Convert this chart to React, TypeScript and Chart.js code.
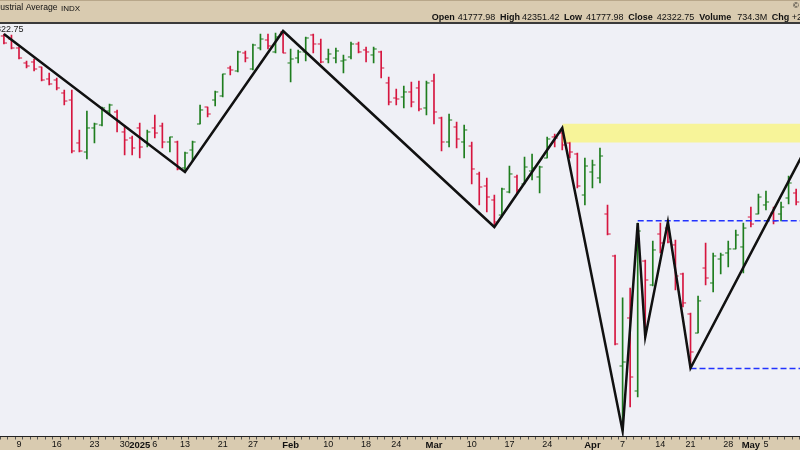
import React, { useEffect, useRef } from 'react';
import { Chart, registerables } from 'chart.js';

Chart.register(...registerables);

// ---- Data (Dow Jones Industrial Average, daily OHLC) ----
const days = [
  '2024-12-05', '2024-12-06', '2024-12-09', '2024-12-10', '2024-12-11', '2024-12-12', '2024-12-13',
  '2024-12-16', '2024-12-17', '2024-12-18', '2024-12-19', '2024-12-20', '2024-12-23', '2024-12-24',
  '2024-12-26', '2024-12-27', '2024-12-30', '2024-12-31', '2025-01-02', '2025-01-03', '2025-01-06',
  '2025-01-07', '2025-01-08', '2025-01-10', '2025-01-13', '2025-01-14', '2025-01-15', '2025-01-16',
  '2025-01-17', '2025-01-21', '2025-01-22', '2025-01-23', '2025-01-24', '2025-01-27', '2025-01-28',
  '2025-01-29', '2025-01-30', '2025-01-31', '2025-02-03', '2025-02-04', '2025-02-05', '2025-02-06',
  '2025-02-07', '2025-02-10', '2025-02-11', '2025-02-12', '2025-02-13', '2025-02-14', '2025-02-18',
  '2025-02-19', '2025-02-20', '2025-02-21', '2025-02-24', '2025-02-25', '2025-02-26', '2025-02-27',
  '2025-02-28', '2025-03-03', '2025-03-04', '2025-03-05', '2025-03-06', '2025-03-07', '2025-03-10',
  '2025-03-11', '2025-03-12', '2025-03-13', '2025-03-14', '2025-03-17', '2025-03-18', '2025-03-19',
  '2025-03-20', '2025-03-21', '2025-03-24', '2025-03-25', '2025-03-26', '2025-03-27', '2025-03-28',
  '2025-03-31', '2025-04-01', '2025-04-02', '2025-04-03', '2025-04-04', '2025-04-07', '2025-04-08',
  '2025-04-09', '2025-04-10', '2025-04-11', '2025-04-14', '2025-04-15', '2025-04-16', '2025-04-17',
  '2025-04-21', '2025-04-22', '2025-04-23', '2025-04-24', '2025-04-25', '2025-04-28', '2025-04-29',
  '2025-04-30', '2025-05-01', '2025-05-02', '2025-05-05', '2025-05-06', '2025-05-07', '2025-05-08',
  '2025-05-09',
];

const opens = [
  44937, 44866, 44657, 44310, 44333, 44218, 43943, 43920, 43624, 43465, 42504, 42305, 42837, 42903,
  43217, 43195, 42748, 42614, 42837, 42526, 42837, 42881, 42526, 42526, 41955, 42349, 42926, 43307,
  43465, 43556, 44195, 44126, 44541, 44172, 44657, 44843, 44565, 45030, 44310, 44425, 44565, 44960,
  44750, 44402, 44425, 44356, 44449, 44750, 44611, 44495, 44565, 43852, 43510, 43533, 43647, 43738,
  43285, 43897, 43060, 42526, 42859, 42526, 42437, 41824, 41563, 41262, 40940, 41434, 41759, 41607,
  41889, 41759, 42173, 42637, 42725, 42504, 42261, 41369, 41867, 41737, 40962, 40077, 37848, 38805,
  37359, 39972, 39477, 40538, 40664, 40308, 39704, 38886, 38503, 39827, 39518, 40014, 40140, 40224,
  40266, 40898, 40962, 41155, 40983, 40962, 41305, 41412,
];

const highs = [
  44983, 44960, 44681, 44356, 44402, 44218, 44080, 43966, 43692, 43692, 42792, 43217, 42948, 43307,
  43375, 43240, 42881, 42659, 42948, 42792, 43127, 42948, 42637, 42548, 42305, 42548, 43352, 43307,
  43669, 44057, 44241, 44588, 44588, 44750, 44983, 44983, 45007, 45054, 44634, 44611, 44913, 44983,
  44866, 44634, 44657, 44495, 44797, 44797, 44681, 44681, 44588, 43989, 43715, 43783, 43874, 43897,
  43897, 44057, 43082, 43150, 42970, 42903, 42526, 41867, 41737, 41369, 41520, 41998, 41802, 42195,
  42261, 41998, 42637, 42703, 42837, 42526, 42283, 42173, 42129, 42393, 41155, 40098, 39212, 39415,
  40770, 39993, 40391, 40770, 40792, 40412, 39724, 38906, 39252, 40349, 40140, 40140, 40391, 40622,
  40770, 41111, 41391, 41456, 41111, 41219, 41780, 41498,
];

const lows = [
  44750, 44634, 44402, 44195, 44126, 43897, 43806, 43692, 43352, 42283, 42305, 42151, 42504, 42881,
  43127, 42748, 42239, 42239, 42173, 42415, 42614, 42393, 42305, 41911, 41867, 42107, 42926, 43082,
  43330, 43533, 44035, 44103, 44333, 44149, 44611, 44634, 44541, 44541, 43874, 44310, 44356, 44541,
  44310, 44310, 44310, 44080, 44402, 44541, 44333, 44310, 43966, 43352, 43352, 43285, 43307, 43217,
  43127, 42926, 42327, 42415, 42393, 42173, 41607, 41155, 41004, 40686, 40898, 41412, 41412, 41607,
  41693, 41412, 42173, 42415, 42349, 42173, 41520, 41155, 41520, 41628, 40517, 38264, 36589, 37049,
  37243, 38423, 39456, 40140, 40349, 39374, 39028, 37808, 38503, 39477, 39333, 39704, 39848, 40224,
  39724, 40686, 40962, 41047, 40749, 40813, 41176, 41155,
];

const closes = [
  44773, 44657, 44425, 44241, 44172, 43920, 43829, 43738, 43442, 42327, 42327, 42837, 42926, 43285,
  43352, 42993, 42570, 42393, 42415, 42748, 42725, 42526, 42637, 41933, 42283, 42526, 43240, 43150,
  43647, 44057, 44149, 44565, 44425, 44727, 44866, 44704, 44913, 44541, 44402, 44565, 44890, 44750,
  44333, 44518, 44588, 44379, 44750, 44565, 44565, 44634, 44195, 43420, 43488, 43647, 43420, 43262,
  43852, 43195, 42526, 43015, 42592, 42792, 41933, 41542, 41326, 40792, 41498, 41824, 41477, 41976,
  41955, 41976, 42592, 42614, 42460, 42305, 41563, 41998, 42020, 42217, 40538, 38284, 37927, 37632,
  40601, 39580, 40203, 40349, 40370, 39662, 39110, 38125, 39151, 39621, 40077, 40098, 40224, 40517,
  40664, 40749, 41326, 41219, 40813, 41111, 41628, 41219,
];

// x-axis tick labels
const tickDates = [
  '2024-12-09', '2024-12-16', '2024-12-23', '2024-12-30', '2025-01-02', '2025-01-06', '2025-01-13',
  '2025-01-21', '2025-01-27', '2025-02-03', '2025-02-10', '2025-02-18', '2025-02-24', '2025-03-03',
  '2025-03-10', '2025-03-17', '2025-03-24', '2025-04-01', '2025-04-07', '2025-04-14', '2025-04-21',
  '2025-04-28', '2025-05-01', '2025-05-05',
];
const tickLabels = [
  '9', '16', '23', '30', '2025', '6', '13', '21', '27', 'Feb', '10', '18', '24', 'Mar', '10', '17',
  '24', 'Apr', '7', '14', '21', '28', 'May', '5',
];
const boldTickLabels = ['2025', 'Feb', 'Mar', 'Apr', 'May'];

// ZigZag pivots
const zigzagDates = [
  '2024-12-05', '2025-01-13', '2025-01-31', '2025-03-13', '2025-03-26', '2025-04-07', '2025-04-09',
  '2025-04-10', '2025-04-15', '2025-04-21', '2025-05-12',
];
const zigzagPrices = [44983, 41867, 45054, 40686, 42837, 36589, 40770, 38423, 40792, 37808, 42296];

// Horizontal levels and zone
const levelDates = ['2025-04-09', '2025-04-21'];
const levelPrices = [40819, 37799];
const zoneStartDate = '2025-03-26';
const zoneTop = 42934;
const zoneBottom = 42512;

// Header
const titleText = 'Dow Jones Industrial Average';
const exchangeText = 'INDX';
const headerLabels = ['Open', 'High', 'Low', 'Close', 'Volume', 'Chg'];
const headerValues = ['41777.98', '42351.42', '41777.98', '42322.75', '734.3M', '+2'];
const lastPriceText = '42322.75';

// ---- Styles / layout ----
const FONT = '"Liberation Sans", Arial, Helvetica, sans-serif';
const UP = '#1e7d1e';
const DOWN = '#d6163f';
const BEIGE = '#d9cbb0';
const PLOT_BG = '#eff0f6';
const X_MIN = -0.518;
const X_MAX = 105.51;
const X_EXT = 112;
const Y_MIN = 36485;
const Y_MAX = 45218;
const headerLabelX = [431.7, 500, 564, 628.3, 699.3, 771.7];
const headerValueX = [457.7, 522, 586, 656.7, 737.3, 791.7];

const dayPos = (d: string) => {
  const k = days.indexOf(d);
  return k >= 0 ? k : days.length;
};

export default function App() {
  const ref = useRef<HTMLCanvasElement>(null);

  useEffect(() => {
    const canvas = ref.current;
    if (!canvas) return;

    const pos = days.map((_, k) => k);
    const colors = pos.map((k) => (closes[k] >= opens[k] ? UP : DOWN));
    const labelMap = new Map<number, string>();
    tickDates.forEach((d, k) => labelMap.set(dayPos(d), tickLabels[k]));

    const decor = {
      id: 'decor',
      beforeDraw(chart: any) {
        const { ctx, chartArea: a, width, height } = chart;
        ctx.save();
        ctx.fillStyle = BEIGE;
        ctx.fillRect(0, 0, width, height);
        ctx.fillStyle = PLOT_BG;
        ctx.fillRect(a.left, a.top, a.right - a.left, a.bottom - a.top);
        ctx.fillStyle = '#b8a78a';
        ctx.fillRect(0, 0, width, 1);
        ctx.fillStyle = '#3a3a3a';
        ctx.fillRect(0, 22, width, 2);
        ctx.restore();
      },
      afterDraw(chart: any) {
        const { ctx } = chart;
        ctx.save();
        ctx.textBaseline = 'middle';
        ctx.fillStyle = '#111';
        ctx.textAlign = 'left';
        ctx.font = `8.6px ${FONT}`;
        const w = ctx.measureText(titleText).width;
        ctx.fillText(titleText, 57.5 - w, 8);
        ctx.font = `8px ${FONT}`;
        ctx.fillText(exchangeText, 61, 8.5);
        headerLabels.forEach((lab, k) => {
          ctx.font = `bold 9px ${FONT}`;
          ctx.fillText(lab, headerLabelX[k], 18);
          ctx.font = `9px ${FONT}`;
          ctx.fillText(headerValues[k], headerValueX[k], 18);
        });
        ctx.font = `8px ${FONT}`;
        ctx.fillText('©', 793, 6);
        ctx.font = `9px ${FONT}`;
        ctx.textAlign = 'right';
        ctx.fillStyle = '#222';
        ctx.fillText(lastPriceText, 23.5, 29.5);
        ctx.restore();
      },
    };

    const chart = new Chart(canvas, {
      type: 'line',
      data: {
        datasets: [
          {
            type: 'bar',
            data: pos.map((k) => ({ x: k, y: [lows[k], highs[k]] })) as any,
            backgroundColor: colors,
            borderWidth: 0,
            barThickness: 1,
            order: 5,
          } as any,
          {
            type: 'line',
            data: pos.map((k) => ({ x: k - 0.2, y: opens[k] })),
            showLine: false,
            pointStyle: 'line',
            pointRadius: 1.6,
            pointBorderWidth: 1,
            pointBorderColor: colors,
            order: 4,
          },
          {
            type: 'line',
            data: pos.map((k) => ({ x: k + 0.2, y: closes[k] })),
            showLine: false,
            pointStyle: 'line',
            pointRadius: 1.6,
            pointBorderWidth: 1,
            pointBorderColor: colors,
            order: 4,
          },
          {
            type: 'line',
            data: [
              { x: dayPos(zoneStartDate), y: zoneTop },
              { x: X_EXT, y: zoneTop },
            ],
            borderWidth: 0,
            borderColor: 'rgba(0,0,0,0)',
            pointRadius: 0,
            fill: { value: zoneBottom },
            backgroundColor: 'rgba(255, 248, 60, 0.5)',
            order: 3,
          },
          ...levelDates.map((d, k) => ({
            type: 'line' as const,
            data: [
              { x: dayPos(d), y: levelPrices[k] },
              { x: X_EXT, y: levelPrices[k] },
            ],
            borderColor: '#2233ff',
            borderWidth: 1.3,
            borderDash: [6, 3],
            pointRadius: 0,
            fill: false,
            order: 2,
          })),
          {
            type: 'line',
            data: zigzagDates.map((d, k) => ({ x: dayPos(d), y: zigzagPrices[k] })),
            borderColor: '#111111',
            borderWidth: 2.5,
            pointRadius: 0,
            tension: 0,
            fill: false,
            order: 1,
          },
        ] as any,
      },
      options: {
        animation: false,
        responsive: false,
        devicePixelRatio: 1,
        events: [],
        layout: { autoPadding: false, padding: { top: 24, left: 0, right: 0, bottom: 0 } },
        plugins: {
          legend: { display: false },
          tooltip: { enabled: false },
        },
        scales: {
          x: {
            type: 'linear',
            min: X_MIN,
            max: X_MAX,
            bounds: 'data',
            offset: false,
            afterBuildTicks: (s: any) => {
              s.ticks = pos.map((v) => ({ value: v }));
            },
            afterFit: (s: any) => {
              s.height = 13.5;
              s.paddingLeft = 0;
              s.paddingRight = 0;
            },
            grid: {
              drawOnChartArea: false,
              drawTicks: true,
              tickLength: 3,
              color: '#555',
              lineWidth: 1,
            },
            border: { display: true, color: '#222', width: 1 },
            ticks: {
              autoSkip: false,
              maxRotation: 0,
              minRotation: 0,
              padding: 0,
              color: '#111',
              callback: (v: any) => labelMap.get(Number(v)) ?? '',
              font: (c: any) => {
                const lab = c.tick ? labelMap.get(c.tick.value) : undefined;
                const bold = lab !== undefined && boldTickLabels.includes(lab);
                return { family: FONT, size: bold ? 9.5 : 9, weight: bold ? 'bold' : 'normal' };
              },
            },
          } as any,
          y: {
            type: 'logarithmic',
            min: Y_MIN,
            max: Y_MAX,
            bounds: 'data',
            display: false,
          } as any,
        },
      },
      plugins: [decor],
    });

    return () => chart.destroy();
  }, []);

  return (
    <div style={{ position: 'fixed', left: 0, top: 0, width: 800, height: 450 }}>
      <canvas ref={ref} width={800} height={450} style={{ display: 'block' }} />
    </div>
  );
}
